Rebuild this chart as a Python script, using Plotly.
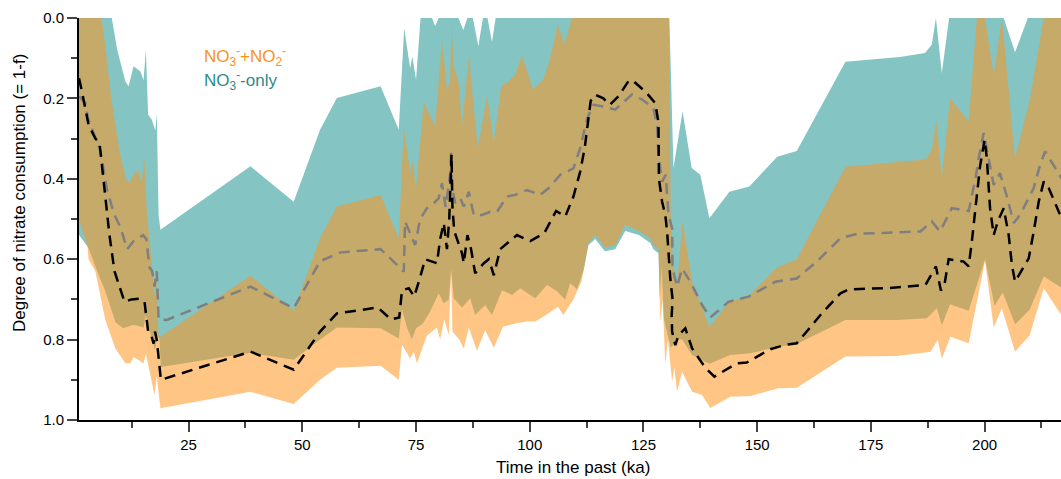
import plotly.graph_objects as go

# ---------------- data (ka, degree of consumption) ----------------
# NO3- only band (teal): upper edge (small values) and lower edge
teal_top_age = [0.9, 8.1, 9.3, 11.1, 11.8, 12.9, 14.4, 15.1, 15.6, 16.1, 16.9, 17.7, 18.0, 18.4, 18.8,
                38.6, 48.1, 53.9, 57.6, 67.2, 71.2, 72.4, 73.7, 74.2, 75.0, 76.0, 78.5, 79.2, 80.0,
                84.3, 85.4, 86.3, 87.5, 88.7, 89.7, 90.7, 91.7, 92.5, 130.7, 131.6, 133.6, 135.6,
                137.5, 139.5, 143.9, 148.3, 154.4, 158.7, 169.4, 181.4, 186.9, 188.4, 189.3, 190.6,
                192.2, 204.2, 206.7, 209.5, 217.0]
teal_top = [0.0, 0.0, 0.079, 0.158, 0.17, 0.12, 0.133, 0.155, 0.079, 0.24, 0.253, 0.28, 0.237, 0.49, 0.527,
            0.369, 0.457, 0.278, 0.199, 0.17, 0.278, 0.025, 0.125, 0.096, 0.154, 0.0, 0.0, 0.02, 0.0,
            0.0, 0.03, 0.0, 0.0, 0.07, 0.0, 0.0, 0.06, 0.0, 0.0, 0.373, 0.232, 0.373,
            0.39, 0.498, 0.432, 0.419, 0.345, 0.331, 0.109, 0.097, 0.087, 0.066, 0.0, 0.137,
            0.0, 0.0, 0.085, 0.0, 0.0]
teal_bot_age = [0.9, 2.9, 5.8, 6.7, 8.9, 10.6, 12.9, 15.1, 15.6, 16.2, 17.6, 18.2, 18.6, 18.9,
                38.6, 48.1, 53.9, 57.6, 67.2, 71.2, 71.9, 73.0, 74.1, 75.0, 76.5, 78.1, 80.0, 81.1,
                82.2, 82.7, 83.3, 85.1, 86.9, 88.0, 90.2, 91.7, 93.9, 96.1, 97.9, 101.2, 103.8,
                106.0, 107.8, 108.9, 110.4, 111.9, 112.9, 114.4, 116.5, 118.8, 121.0, 122.5, 124.0,
                126.5, 127.2, 128.3, 128.6, 129.0, 129.5, 130.2, 131.0, 132.4, 133.5, 135.7, 138.6,
                139.5, 144.1, 148.5, 154.7, 158.7, 169.4, 180.7, 187.3, 189.5, 190.6, 192.4, 196.5,
                200.1, 202.2, 204.0, 206.7, 209.9, 213.0, 217.0]
teal_bot = [0.54, 0.57, 0.656, 0.68, 0.757, 0.772, 0.763, 0.77, 0.739, 0.77, 0.826, 0.79, 0.80, 0.868,
            0.833, 0.85, 0.80, 0.77, 0.772, 0.797, 0.725, 0.77, 0.80, 0.772, 0.76, 0.73, 0.685, 0.71,
            0.70, 0.625, 0.697, 0.72, 0.697, 0.739, 0.714, 0.739, 0.677, 0.689, 0.672, 0.697, 0.664,
            0.68, 0.70, 0.66, 0.675, 0.625, 0.565, 0.55, 0.58, 0.575, 0.53, 0.535, 0.54,
            0.56, 0.575, 0.585, 0.70, 0.62, 0.75, 0.78, 0.82, 0.80, 0.80, 0.838, 0.855,
            0.86, 0.838, 0.834, 0.818, 0.811, 0.751, 0.751, 0.747, 0.722, 0.764, 0.712, 0.728,
            0.60, 0.716, 0.683, 0.762, 0.726, 0.643, 0.672]

# NO3- + NO2- band (orange)
or_top_age = [0.9, 5.9, 7.0, 8.0, 9.8, 11.2, 12.0, 13.1, 13.9, 14.6, 15.3, 15.8, 16.8, 17.5, 17.9, 18.4, 18.8,
              38.6, 48.1, 53.9, 57.6, 67.2, 71.2, 72.3, 73.4, 73.7, 74.3, 75.0, 76.7, 79.2, 80.7,
              81.8, 82.5, 82.8, 83.3, 84.4, 85.1, 86.6, 88.6, 90.6, 92.1, 93.7, 95.3, 96.8, 98.3,
              100.7, 102.9, 104.2, 106.2, 107.6, 109.3, 130.6, 131.0, 131.5, 132.4, 133.6, 135.7,
              137.9, 139.5, 143.9, 148.3, 154.4, 158.7, 169.4, 185.8, 187.3, 188.4, 189.4, 190.6,
              192.4, 196.5, 198.3, 200.1, 202.0, 203.8, 206.7, 210.0, 213.0, 217.0]
or_top = [0.0, 0.0, 0.10, 0.20, 0.33, 0.40, 0.41, 0.385, 0.38, 0.41, 0.35, 0.48, 0.60, 0.69, 0.64, 0.79, 0.793,
          0.641, 0.728, 0.548, 0.469, 0.44, 0.548, 0.27, 0.36, 0.382, 0.357, 0.424, 0.21, 0.268, 0.056,
          0.18, 0.154, 0.017, 0.12, 0.162, 0.27, 0.095, 0.324, 0.193, 0.31, 0.17, 0.158, 0.141, 0.094,
          0.178, 0.154, 0.112, 0.017, 0.066, 0.0, 0.0, 0.50, 0.62, 0.66, 0.506, 0.656,
          0.722, 0.768, 0.706, 0.69, 0.62, 0.60, 0.37, 0.353, 0.349, 0.328, 0.255, 0.396,
          0.20, 0.257, 0.0, 0.0, 0.143, 0.0, 0.349, 0.20, 0.0, 0.0]
or_bot_age = [0.9, 2.8, 3.0, 4.5, 6.7, 8.9, 11.1, 12.2, 12.9, 15.1, 15.6, 16.2, 17.5, 18.0, 18.8,
              38.6, 48.1, 53.9, 57.6, 67.2, 71.2, 71.9, 73.7, 74.5, 75.2, 77.4, 79.6, 80.3, 81.2,
              82.2, 82.7, 83.0, 84.5, 85.5, 86.6, 88.4, 90.2, 92.1, 94.1, 96.8, 99.4, 101.2, 103.4,
              106.2, 107.4, 109.6, 111.4, 112.9, 114.4, 116.5, 118.8, 121.0, 122.5, 124.0, 126.5,
              127.2, 128.3, 128.7, 129.2, 129.8, 130.4, 131.3, 131.8, 132.4, 133.5, 135.7, 137.9,
              139.7, 144.1, 148.5, 154.7, 158.7, 169.4, 180.7, 188.1, 189.7, 190.6, 192.5, 196.5,
              200.1, 202.0, 203.8, 206.7, 209.9, 213.0, 217.0]
or_bot = [0.50, 0.57, 0.60, 0.63, 0.751, 0.822, 0.859, 0.859, 0.843, 0.859, 0.834, 0.868, 0.938, 0.892, 0.971,
          0.93, 0.96, 0.90, 0.87, 0.865, 0.90, 0.812, 0.847, 0.83, 0.859, 0.79, 0.77, 0.80, 0.75,
          0.789, 0.635, 0.78, 0.80, 0.822, 0.77, 0.828, 0.777, 0.82, 0.768, 0.76, 0.755, 0.755, 0.74,
          0.718, 0.739, 0.70, 0.655, 0.56, 0.54, 0.57, 0.565, 0.515, 0.523, 0.53, 0.548,
          0.565, 0.573, 0.756, 0.70, 0.86, 0.80, 0.905, 0.87, 0.93, 0.88, 0.93, 0.938,
          0.97, 0.942, 0.94, 0.921, 0.92, 0.842, 0.841, 0.83, 0.801, 0.847, 0.793, 0.809,
          0.604, 0.77, 0.722, 0.83, 0.79, 0.672, 0.741]

# mean curves
nn_age = [0.9, 1.5, 3.0, 4.5, 5.4, 6.5, 7.6, 8.7, 9.8, 10.9, 12.4, 14.2, 15.3, 16.1, 16.8, 17.3, 17.6, 18.0,
          18.4, 18.9, 38.6, 48.1, 53.9, 57.6, 66.6, 69.5, 71.3, 71.9, 73.4, 74.6, 75.9, 77.0, 79.6,
          80.3, 81.1, 81.8, 82.3, 82.6, 82.8, 83.0, 83.4, 85.1, 85.5, 86.3, 87.1, 88.0, 89.9, 91.0,
          92.1, 93.5, 97.2, 100.1, 103.2, 105.8, 107.8, 109.6, 111.1, 112.1, 113.4, 114.4, 116.2,
          117.6, 119.5, 121.7, 122.6, 125.6, 127.6, 128.3, 128.4, 129.1, 129.8, 130.2, 130.9, 131.4,
          131.2, 131.3, 132.0, 132.7, 134.2, 135.7, 138.6, 140.6, 145.5, 147.7, 150.7, 152.9, 156.2,
          158.7, 160.9, 164.2, 168.3, 170.1, 178.5, 187.0, 189.3, 190.4, 191.2, 192.1, 195.4, 196.5,
          197.2, 198.3, 199.0, 200.0, 200.5, 201.2, 202.0, 202.9, 204.2, 205.3, 206.0, 206.7, 209.7,
          210.8, 211.9, 213.0, 214.1, 217.0]
nn_mean = [0.15, 0.18, 0.266, 0.30, 0.31, 0.42, 0.54, 0.63, 0.67, 0.706, 0.70, 0.698, 0.706, 0.78, 0.79, 0.81,
           0.78, 0.80, 0.845, 0.90, 0.83, 0.875, 0.78, 0.735, 0.72, 0.75, 0.745, 0.678, 0.672, 0.693,
           0.645, 0.60, 0.61, 0.55, 0.51, 0.575, 0.50, 0.40, 0.34, 0.47, 0.53, 0.585, 0.61, 0.54, 0.575,
           0.635, 0.61, 0.60, 0.64, 0.575, 0.54, 0.555, 0.535, 0.48, 0.494, 0.444, 0.382, 0.322,
           0.206, 0.191, 0.20, 0.216, 0.195, 0.157, 0.155, 0.185, 0.212, 0.26, 0.40, 0.457, 0.49,
           0.531, 0.648, 0.70, 0.74, 0.78, 0.814, 0.789, 0.772, 0.822, 0.87, 0.892, 0.859, 0.857,
           0.838, 0.824, 0.813, 0.809, 0.78, 0.735, 0.685, 0.675, 0.672, 0.664, 0.618, 0.678, 0.662,
           0.60, 0.606, 0.618, 0.556, 0.44, 0.369, 0.303, 0.349, 0.473, 0.54, 0.506, 0.473, 0.54,
           0.614, 0.656, 0.598, 0.531, 0.457, 0.407, 0.423, 0.50]

no3_age = [0.9, 2.3, 2.9, 5.6, 7.1, 8.7, 10.0, 11.5, 12.9, 15.0, 15.7, 16.4, 17.0, 17.5, 18.0, 18.4, 20.2,
           38.6, 48.1, 53.9, 58.4, 67.2, 70.8, 72.3, 72.6, 73.5, 74.8, 75.9, 77.4, 79.0, 80.0, 80.7,
           81.5, 82.5, 82.7, 82.9, 83.6, 84.7, 85.5, 86.6, 87.7, 89.5, 91.3, 92.8, 95.0, 96.8, 99.4,
           102.3, 104.2, 106.7, 109.6, 111.1, 112.6, 114.0, 116.2, 118.8, 122.5, 124.7, 127.2, 128.0,
           128.3, 129.1, 129.9, 130.5, 131.3, 131.4, 132.4, 133.5, 135.3, 137.9, 139.7, 143.7, 148.1,
           154.0, 158.7, 163.1, 168.3, 171.9, 177.8, 185.9, 188.4, 190.2, 192.8, 196.5, 198.0, 198.7,
           199.8, 200.9, 202.0, 203.4, 204.9, 206.4, 207.8, 210.8, 212.2, 213.3, 214.4, 217.0]
no3_mean = [0.195, 0.211, 0.25, 0.33, 0.43, 0.49, 0.52, 0.575, 0.555, 0.54, 0.55, 0.62, 0.63, 0.668, 0.63, 0.75,
            0.751, 0.668, 0.722, 0.605, 0.583, 0.575, 0.614, 0.631, 0.506, 0.53, 0.565, 0.50, 0.473,
            0.46, 0.448, 0.411, 0.47, 0.39, 0.332, 0.42, 0.46, 0.448, 0.469, 0.432, 0.49, 0.49, 0.482,
            0.482, 0.444, 0.44, 0.428, 0.44, 0.423, 0.39, 0.374, 0.324, 0.25, 0.216, 0.22, 0.228,
            0.19, 0.203, 0.224, 0.27, 0.34, 0.407, 0.39, 0.49, 0.523, 0.623, 0.668, 0.623, 0.656,
            0.714, 0.745, 0.706, 0.693, 0.656, 0.648, 0.606, 0.548, 0.537, 0.535, 0.531, 0.506, 0.531,
            0.473, 0.48, 0.399, 0.349, 0.286, 0.349, 0.415, 0.386, 0.444, 0.51, 0.49, 0.423, 0.365,
            0.332, 0.353, 0.40]

x_ticks = [25, 50, 75, 100, 125, 150, 175, 200]
y_ticks = [0.0, 0.2, 0.4, 0.6, 0.8, 1.0]

TEAL_FILL = "#84c4c3"
ORANGE_FILL = "rgba(253,150,33,0.55)"
FONT = "Liberation Sans, Arial, sans-serif"
DASH = "11px,7px"

fig = go.Figure()


def band(top_x, top_y, bot_x, bot_y, color):
    return go.Scatter(
        x=list(top_x) + list(bot_x)[::-1],
        y=list(top_y) + list(bot_y)[::-1],
        fill="toself", fillcolor=color, mode="lines",
        line=dict(width=0), hoverinfo="skip", showlegend=False)


fig.add_trace(band(teal_top_age, teal_top, teal_bot_age, teal_bot, TEAL_FILL))
fig.add_trace(band(or_top_age, or_top, or_bot_age, or_bot, ORANGE_FILL))
fig.add_trace(go.Scatter(x=no3_age, y=no3_mean, mode="lines", showlegend=False,
                         line=dict(color="#7f7f7f", width=2.5, dash=DASH)))
fig.add_trace(go.Scatter(x=nn_age, y=nn_mean, mode="lines", showlegend=False,
                         line=dict(color="black", width=2.5, dash=DASH)))

fig.update_layout(
    width=1061, height=479,
    margin=dict(l=79, r=0, t=18, b=59, autoexpand=False),
    paper_bgcolor="white", plot_bgcolor="white",
    font=dict(family=FONT, size=15, color="black"),
    showlegend=False,
    xaxis=dict(range=[0.9, 216.8], tickvals=x_ticks, ticks="outside", ticklen=10, tickwidth=2,
               showline=True, linewidth=2, linecolor="black", showgrid=False, zeroline=False,
               automargin=False,
               minor=dict(ticks="outside", ticklen=6, tickwidth=2, dtick=12.5, tick0=0, showgrid=False),
               tickfont=dict(size=15)),
    yaxis=dict(range=[1.0, 0.0], tickvals=y_ticks, tickformat=".1f", ticks="outside", ticklen=10,
               tickwidth=2, showline=True, linewidth=2, linecolor="black", showgrid=False,
               zeroline=False, automargin=False,
               minor=dict(ticks="outside", ticklen=6, tickwidth=2, dtick=0.1, tick0=0, showgrid=False),
               tickfont=dict(size=15)),
    annotations=[
        dict(text="Time in the past (ka)", xref="paper", yref="paper", x=0.503, y=-0.117,
             xanchor="center", yanchor="middle", showarrow=False, font=dict(size=17)),
        dict(text="Degree of nitrate consumption (= 1-f)", xref="paper", yref="paper",
             x=-0.060, y=0.565, xanchor="center", yanchor="middle", textangle=-90,
             showarrow=False, font=dict(size=17)),
        dict(text="NO<sub>3</sub><sup>-</sup>+NO<sub>2</sub><sup>-</sup>", xref="paper", yref="paper",
             x=0.125, y=0.903, xanchor="left", yanchor="middle", showarrow=False,
             font=dict(size=17, color="#f7931e")),
        dict(text="NO<sub>3</sub><sup>-</sup>-only", xref="paper", yref="paper",
             x=0.125, y=0.845, xanchor="left", yanchor="middle", showarrow=False,
             font=dict(size=17, color="#2e8b87")),
    ],
)

# remove the browser's default body margin so the 1061x479 figure fills the window exactly
fig.write_html("out.html",
               config={"displayModeBar": False},
               post_script="document.body.style.margin='0';document.body.style.overflow='hidden';")
